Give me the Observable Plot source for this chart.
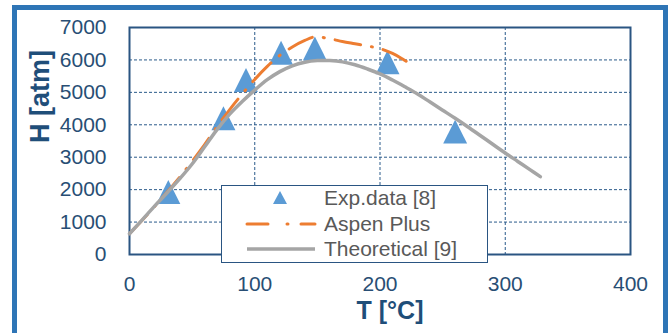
<!DOCTYPE html>
<html>
<head>
<meta charset="utf-8">
<script src="https://cdn.jsdelivr.net/npm/d3@7"></script>
<script src="https://cdn.jsdelivr.net/npm/@observablehq/plot@0.6"></script>
<style>
  html, body { margin: 0; padding: 0; background: #fff; overflow: hidden; }
  #wrap { position: relative; width: 670px; height: 333px; overflow: hidden; background: #fff; }
  #border { position: absolute; left: 12px; top: 5px; width: 646px; height: 360px; border: 5px solid #2e75b6; }
  #chart { position: absolute; left: 0; top: 0; }
  #legend { position: absolute; left: 221px; top: 185px; }
</style>
</head>
<body>
<div id="wrap">
  <div id="border"></div>
  <div id="chart"></div>
  <div id="legend"></div>
</div>
<script>
// ---- data ----
const xTicks = [0, 100, 200, 300, 400];
const yTicks = [0, 1000, 2000, 3000, 4000, 5000, 6000, 7000];
const xGrid = [100, 200, 300];
const yGrid = [1000, 2000, 3000, 4000, 5000, 6000];

const seriesNames = ["Exp.data [8]", "Aspen Plus", "Theoretical [9]"];

const expT = [31, 75, 93, 121, 148, 206, 260];
const expH = [1930, 4200, 5380, 6220, 6350, 5930, 3790];

const aspenT = [0, 20, 40, 60, 70, 80, 90, 100, 110, 120, 130, 140, 148, 160, 170, 180, 190, 200, 210, 218, 225];
const aspenH = [640, 1480, 2380, 3390, 3950, 4470, 4950, 5400, 5800, 6140, 6400, 6600, 6710, 6650, 6570, 6500, 6430, 6350, 6200, 6030, 5860];

const theoT = [0, 10, 20, 30, 40, 50, 60, 70, 80, 90, 100, 110, 120, 130, 140, 150, 160, 170, 180, 190, 200, 210, 220, 230, 240, 250, 260, 270, 280, 290, 300, 310, 320, 328];
const theoH = [640, 1060, 1490, 1900, 2330, 2790, 3320, 3860, 4330, 4720, 5070, 5390, 5640, 5820, 5930, 5980, 5980, 5940, 5850, 5720, 5570, 5380, 5170, 4950, 4700, 4450, 4200, 3940, 3670, 3400, 3130, 2870, 2610, 2400];

// ---- styles ----
const C = {
  tick: "#284e74", title: "#1f4e79", grid: "#2a5a8a", frame: "#2a5582",
  exp: "#5b9bd5", aspen: "#ed7d31", theo: "#a5a5a5", legendText: "#595959"
};
const font = "'Liberation Sans', Arial, sans-serif";

const exp = expT.map((t, i) => ({T: t, H: expH[i]}));
const aspen = aspenT.map((t, i) => ({T: t, H: aspenH[i]}));
const theo = theoT.map((t, i) => ({T: t, H: theoH[i]}));

const triangle = {
  draw(ctx, size) {
    const r = Math.sqrt(size / Math.PI);
    const w = r * 1.33;
    ctx.moveTo(0, -w); ctx.lineTo(w, w); ctx.lineTo(-w, w); ctx.closePath();
  }
};

const chart = Plot.plot({
  width: 670, height: 333,
  marginLeft: 129, marginRight: 40, marginTop: 27, marginBottom: 79,
  x: {domain: [0, 400]},
  y: {domain: [0, 7000]},
  style: {fontFamily: font, fontSize: "21px", color: C.tick, background: "transparent", overflow: "visible"},
  marks: [
    Plot.gridX(xGrid, {stroke: C.grid, strokeOpacity: 1, strokeWidth: 1, strokeDasharray: "3,2"}),
    Plot.gridY(yGrid, {stroke: C.grid, strokeOpacity: 1, strokeWidth: 1, strokeDasharray: "3,2"}),
    Plot.frame({stroke: C.frame, strokeWidth: 2}),
    Plot.axisX(xTicks, {tickSize: 0, tickPadding: 22, label: null, tickFormat: d => String(d), fill: C.tick}),
    Plot.axisY(yTicks, {tickSize: 0, tickPadding: 23, label: null, tickFormat: d => String(d), fill: C.tick}),
    Plot.dot(exp, {x: "T", y: "H", symbol: triangle, r: 9, fill: C.exp}),
    Plot.line(aspen, {x: "T", y: "H", stroke: C.aspen, strokeWidth: 3, strokeDasharray: "26,11,1,11", strokeLinecap: "round", curve: "catmull-rom"}),
    Plot.line(theo, {x: "T", y: "H", stroke: C.theo, strokeWidth: 3.5, curve: "catmull-rom"}),
    Plot.text(["T [°C]"], {frameAnchor: "bottom", dx: 10, dy: 64, fontSize: 25, fontWeight: "bold", fill: C.title}),
    Plot.text(["H [atm]"], {frameAnchor: "left", dx: -89, dy: 2, rotate: -90, fontSize: 27, fontWeight: "bold", fill: C.title})
  ]
});
document.getElementById("chart").appendChild(chart);

// ---- legend ----
const lw = 267, lh = 78;
const lg = d3.select("#legend").append("svg").attr("width", lw).attr("height", lh)
  .style("font-family", font);
lg.append("rect").attr("x", 0.5).attr("y", 0.5).attr("width", lw - 1).attr("height", lh - 1)
  .attr("fill", "#fff").attr("stroke", C.frame).attr("stroke-width", 1);
const rows = [13, 39, 64];
lg.append("path").attr("d", "M59," + (rows[0] - 7) + "L66," + (rows[0] + 6) + "L52," + (rows[0] + 6) + "Z").attr("fill", C.exp);
lg.append("line").attr("x1", 26).attr("x2", 94).attr("y1", rows[1]).attr("y2", rows[1])
  .attr("stroke", C.aspen).attr("stroke-width", 3).attr("stroke-dasharray", "21,19,1,13").attr("stroke-linecap", "round");
lg.append("line").attr("x1", 26).attr("x2", 94).attr("y1", rows[2]).attr("y2", rows[2])
  .attr("stroke", C.theo).attr("stroke-width", 3.5);
seriesNames.forEach((n, i) => {
  lg.append("text").attr("x", 103).attr("y", rows[i]).attr("dy", "0.35em")
    .attr("font-size", 21).attr("fill", C.legendText).text(n);
});
</script>
</body>
</html>
